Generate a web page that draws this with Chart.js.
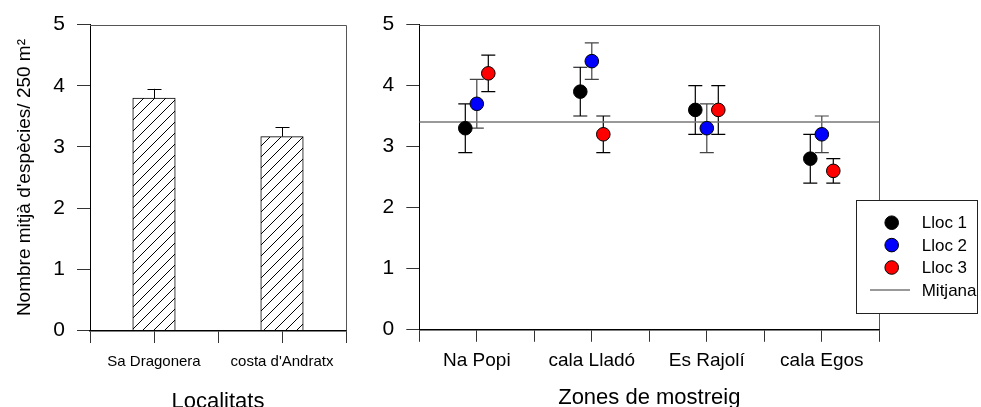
<!DOCTYPE html>
<html>
<head>
<meta charset="utf-8">
<title>Nombre mitjà d'espècies</title>
<script src="https://cdn.jsdelivr.net/npm/chart.js@4.4.1/dist/chart.umd.min.js"></script>
<style>
  html, body { margin: 0; padding: 0; background: #fff; overflow: hidden; }
  #wrap { position: relative; width: 981px; height: 407px; overflow: hidden; }
  #left { position: absolute; left: 0; top: 0; width: 360px; height: 425px; }
  #right { position: absolute; left: 360px; top: 0; width: 621px; height: 425px; }
</style>
</head>
<body>
<div id="wrap">
  <canvas id="left" width="360" height="425"></canvas>
  <canvas id="right" width="621" height="425"></canvas>
</div>
<script>
// Mitjana per localitat
const localitats = ["Sa Dragonera", "costa d'Andratx"];
const mitjanaLocalitat = [3.8, 3.17];
const errLocalitat = [0.15, 0.15];

// Mitjana per zona i lloc
const zones = ["Na Popi", "cala Lladó", "Es Rajolí", "cala Egos"];
const lloc1 = [3.3, 3.9, 3.6, 2.8];
const lloc1Err = [0.4, 0.4, 0.4, 0.4];
const lloc2 = [3.7, 4.4, 3.3, 3.2];
const lloc2Err = [0.4, 0.3, 0.4, 0.3];
const lloc3 = [4.2, 3.2, 3.6, 2.6];
const lloc3Err = [0.3, 0.3, 0.4, 0.2];
const mitjanaGeneral = 3.4;

Chart.defaults.font.family = '"Liberation Sans", Arial, Helvetica, sans-serif';
Chart.defaults.color = "#000";
Chart.defaults.animation = false;

// diagonal hatch for the bars
function hatchPattern(ctx) {
    const s = 11;
    const c = document.createElement("canvas");
    c.width = s;
    c.height = s;
    const g = c.getContext("2d");
    g.fillStyle = "#fff";
    g.fillRect(0, 0, s, s);
    g.strokeStyle = "#000";
    g.lineWidth = 1;
    g.beginPath();
    g.moveTo(0, s);
    g.lineTo(s, 0);
    g.moveTo(-1, 1);
    g.lineTo(1, -1);
    g.moveTo(s - 1, s + 1);
    g.lineTo(s + 1, s - 1);
    g.stroke();
    return ctx.createPattern(c, "repeat");
}

// top and right border of the plot box
function drawFrame(chart) {
    const { ctx, chartArea } = chart;
    ctx.save();
    ctx.strokeStyle = "#555";
    ctx.lineWidth = 1;
    ctx.beginPath();
    ctx.moveTo(chartArea.left, Math.round(chartArea.top) + 0.5);
    ctx.lineTo(Math.round(chartArea.right) + 0.5, Math.round(chartArea.top) + 0.5);
    ctx.lineTo(Math.round(chartArea.right) + 0.5, chartArea.bottom);
    ctx.stroke();
    ctx.restore();
}

function categoryLabel(names) {
    return (v) => {
        const i = Math.round(v - 0.5);
        return Math.abs(v - 0.5 - i) < 1e-6 && names[i] ? names[i] : "";
    };
}

function yScale(width, titleOpts) {
    return {
        type: "linear",
        min: 0,
        max: 5,
        ticks: { stepSize: 1, padding: 12, font: { size: 21 }, color: "#000" },
        grid: { drawOnChartArea: false, drawTicks: true, tickLength: 13, color: "#333" },
        border: { display: true, color: "#000", width: 1 },
        title: titleOpts || { display: false },
        afterFit: (scale) => { scale.width = width; },
    };
}

function xScale(max, names, height, fontSize, pad, title, titlePad) {
    return {
        type: "linear",
        min: 0,
        max: max,
        offset: false,
        ticks: {
            stepSize: 0.5,
            autoSkip: false,
            maxRotation: 0,
            padding: pad,
            font: { size: fontSize },
            color: "#000",
            callback: categoryLabel(names),
        },
        grid: { offset: false, drawOnChartArea: false, drawTicks: true, tickLength: 12.5, color: "#333" },
        border: { display: true, color: "#000", width: 1.5 },
        title: { display: true, text: title, font: { size: 22 }, color: "#000", padding: { top: 0, bottom: titlePad } },
        afterFit: (scale) => { scale.height = height; },
    };
}

// ---- left panel: bars per locality ----
const leftCanvas = document.getElementById("left");
const leftCtx = leftCanvas.getContext("2d");

const barErrors = {
    id: "barErrors",
    afterDatasetsDraw(chart) {
        const ctx = chart.ctx;
        const y = chart.scales.y;
        const meta = chart.getDatasetMeta(0);
        ctx.save();
        ctx.strokeStyle = "#000";
        ctx.lineWidth = 1;
        meta.data.forEach((bar, i) => {
            const top = y.getPixelForValue(mitjanaLocalitat[i] + errLocalitat[i]);
            const bx = Math.round(bar.x) + 0.5;
            ctx.beginPath();
            ctx.moveTo(bx, bar.y);
            ctx.lineTo(bx, top);
            ctx.moveTo(bx - 7, Math.round(top) + 0.5);
            ctx.lineTo(bx + 7, Math.round(top) + 0.5);
            ctx.stroke();
        });
        ctx.restore();
    },
    afterDraw(chart) {
        drawFrame(chart);
    },
};

new Chart(leftCtx, {
    type: "bar",
    data: {
        datasets: [
            {
                data: localitats.map((name, i) => ({ x: i + 0.5, y: mitjanaLocalitat[i] })),
                backgroundColor: hatchPattern(leftCtx),
                borderColor: "#000",
                borderWidth: 1,
                barThickness: 42.5,
            },
        ],
    },
    options: {
        responsive: false,
        layout: { padding: { top: 24, right: 14, left: 0, bottom: 0 } },
        plugins: { legend: { display: false }, tooltip: { enabled: false } },
        scales: {
            x: xScale(2, localitats, 94.5, 15, 10, "Localitats", 10),
            y: yScale(90, {
                display: true,
                text: "Nombre mitjà d'espècies/ 250 m²",
                font: { size: 19 },
                color: "#000",
                padding: { top: 13, bottom: 0 },
            }),
        },
    },
    plugins: [barErrors],
});

// ---- right panel: points per zone and site ----
const rightCtx = document.getElementById("right").getContext("2d");

const series = [
    { label: "Lloc 1", values: lloc1, err: lloc1Err, color: "#000000", whisker: "#000" },
    { label: "Lloc 2", values: lloc2, err: lloc2Err, color: "#0000ff", whisker: "#444" },
    { label: "Lloc 3", values: lloc3, err: lloc3Err, color: "#ff0000", whisker: "#000" },
];
const shift = [-0.1, 0, 0.1];

const pointSets = series.map((s, k) => ({
    label: s.label,
    type: "scatter",
    data: zones.map((z, i) => ({ x: i + 0.5 + shift[k], y: s.values[i] })),
    backgroundColor: s.color,
    borderColor: "#000",
    pointRadius: 6.8,
    pointBorderWidth: 1,
    errors: s.err,
    whisker: s.whisker,
    order: 1,
}));

const meanSet = {
    label: "Mitjana",
    type: "line",
    data: [
        { x: 0, y: mitjanaGeneral },
        { x: zones.length, y: mitjanaGeneral },
    ],
    borderColor: "#777",
    borderWidth: 1.5,
    pointRadius: 0,
    order: 2,
};

const errorBars = {
    id: "errorBars",
    beforeDatasetsDraw(chart) {
        const ctx = chart.ctx;
        const y = chart.scales.y;
        ctx.save();
        ctx.lineWidth = 1.2;
        chart.data.datasets.forEach((ds, d) => {
            if (!ds.errors) return;
            ctx.strokeStyle = ds.whisker;
            chart.getDatasetMeta(d).data.forEach((pt, i) => {
                const v = ds.data[i].y;
                const hi = y.getPixelForValue(v + ds.errors[i]);
                const lo = y.getPixelForValue(v - ds.errors[i]);
                ctx.beginPath();
                ctx.moveTo(pt.x, hi);
                ctx.lineTo(pt.x, lo);
                ctx.moveTo(pt.x - 7, hi);
                ctx.lineTo(pt.x + 7, hi);
                ctx.moveTo(pt.x - 7, lo);
                ctx.lineTo(pt.x + 7, lo);
                ctx.stroke();
            });
        });
        ctx.restore();
    },
    afterDraw(chart) {
        drawFrame(chart);
        // legend box
        const ctx = chart.ctx;
        const bx = 496.5, by = 200.5, bw = 121, bh = 113;
        ctx.save();
        ctx.fillStyle = "#fff";
        ctx.fillRect(bx, by, bw, bh);
        ctx.strokeStyle = "#222";
        ctx.lineWidth = 1;
        ctx.strokeRect(bx, by, bw, bh);
        ctx.font = '17px "Liberation Sans", Arial, sans-serif';
        ctx.textBaseline = "middle";
        const rows = chart.data.datasets;
        rows.forEach((ds, i) => {
            const ry = 222.7 + i * 22.4;
            if (ds.type === "line") {
                ctx.strokeStyle = ds.borderColor;
                ctx.lineWidth = ds.borderWidth;
                ctx.beginPath();
                ctx.moveTo(510, ry);
                ctx.lineTo(550, ry);
                ctx.stroke();
            } else {
                ctx.fillStyle = ds.backgroundColor;
                ctx.strokeStyle = "#000";
                ctx.lineWidth = 1;
                ctx.beginPath();
                ctx.arc(531.7, ry, 6.8, 0, Math.PI * 2);
                ctx.fill();
                ctx.stroke();
            }
            ctx.fillStyle = "#000";
            ctx.fillText(ds.label, 561.7, ry + 1);
        });
        ctx.restore();
    },
};

new Chart(rightCtx, {
    data: { datasets: [...pointSets, meanSet] },
    options: {
        responsive: false,
        layout: { padding: { top: 21.7, right: 101.7, left: 0, bottom: 0 } },
        plugins: { legend: { display: false }, tooltip: { enabled: false } },
        scales: {
            x: xScale(zones.length, zones, 95.7, 19, 8, "Zones de mostreig", 14),
            y: yScale(59.3),
        },
    },
    plugins: [errorBars],
});
</script>
</body>
</html>
